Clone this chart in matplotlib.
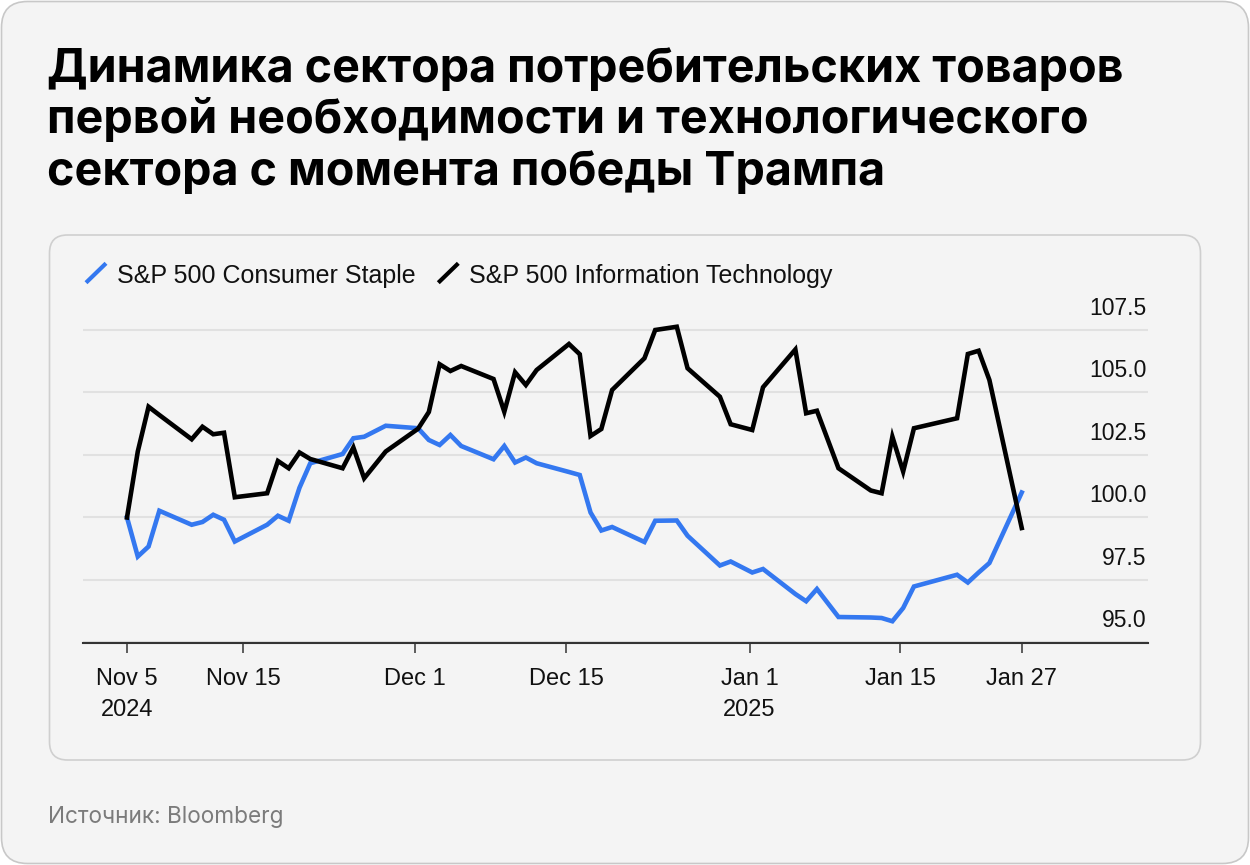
import numpy as np
import matplotlib
matplotlib.use("Agg")
import matplotlib.pyplot as plt
import matplotlib.dates as mdates
from matplotlib.patches import FancyBboxPatch
from matplotlib.lines import Line2D
from matplotlib.transforms import IdentityTransform

# ---------------- data ----------------
dates = np.array([
    "2024-11-05", "2024-11-06", "2024-11-07", "2024-11-08",
    "2024-11-11", "2024-11-12", "2024-11-13", "2024-11-14", "2024-11-15",
    "2024-11-18", "2024-11-19", "2024-11-20", "2024-11-21", "2024-11-22",
    "2024-11-25", "2024-11-26", "2024-11-27", "2024-11-29",
    "2024-12-02", "2024-12-03", "2024-12-04", "2024-12-05", "2024-12-06",
    "2024-12-09", "2024-12-10", "2024-12-11", "2024-12-12", "2024-12-13",
    "2024-12-16", "2024-12-17", "2024-12-18", "2024-12-19", "2024-12-20",
    "2024-12-23", "2024-12-24", "2024-12-26", "2024-12-27",
    "2024-12-30", "2024-12-31", "2025-01-02", "2025-01-03",
    "2025-01-06", "2025-01-07", "2025-01-08", "2025-01-10",
    "2025-01-13", "2025-01-14", "2025-01-15", "2025-01-16", "2025-01-17",
    "2025-01-21", "2025-01-22", "2025-01-23", "2025-01-24", "2025-01-27",
], dtype="datetime64[D]")

consumer_staples = [
    100.0, 98.44, 98.84, 100.27,
    99.71, 99.82, 100.11, 99.91, 99.04,
    99.71, 100.07, 99.87, 101.19, 102.17,
    102.54, 103.17, 103.23, 103.67,
    103.57, 103.10, 102.90, 103.30, 102.86,
    102.33, 102.86, 102.20, 102.40, 102.17,
    101.82, 101.70, 100.20, 99.48, 99.62,
    99.02, 99.87, 99.88, 99.27,
    98.08, 98.24, 97.80, 97.94,
    96.94, 96.65, 97.14, 96.02,
    96.00, 95.98, 95.85, 96.38, 97.24,
    97.71, 97.40, 97.80, 98.18, 101.00,
]

info_tech = [
    100.0, 102.64, 104.43, 104.10,
    103.13, 103.63, 103.33, 103.39, 100.81,
    100.97, 102.26, 101.97, 102.60, 102.34,
    101.97, 102.80, 101.57, 102.64,
    103.55, 104.22, 106.13, 105.86, 106.06,
    105.54, 104.23, 105.81, 105.30, 105.90,
    106.94, 106.53, 103.26, 103.54, 105.10,
    106.37, 107.50, 107.63, 105.97,
    104.83, 103.73, 103.50, 105.21,
    106.72, 104.17, 104.27, 101.97,
    101.08, 100.97, 103.23, 101.84, 103.57,
    103.97, 106.54, 106.67, 105.50, 99.58,
]

series_names = ["S&P 500 Consumer Staple", "S&P 500 Information Technology"]
series_colors = ["#3478F0", "#000000"]

y_ticks = [95.0, 97.5, 100.0, 102.5, 105.0, 107.5]
x_tick_dates = ["2024-11-05", "2024-11-15", "2024-12-01", "2024-12-15",
                "2025-01-01", "2025-01-15", "2025-01-27"]
x_tick_labels = ["Nov 5\n2024", "Nov 15", "Dec 1", "Dec 15",
                 "Jan 1\n2025", "Jan 15", "Jan 27"]

title_lines = [
    "Динамика сектора потребительских товаров",
    "первой необходимости и технологического",
    "сектора с момента победы Трампа",
]
source_text = "Источник: Bloomberg"

# ---------------- figure ----------------
W, H = 1250, 865
BG = "#f4f4f4"
fig = plt.figure(figsize=(W / 100, H / 100), dpi=100, facecolor="white")

def fy(y_top):
    return 1 - y_top / H

# outer card
outer = FancyBboxPatch((1.5, 1.5), W - 3, H - 3,
                       boxstyle="round,pad=0,rounding_size=26",
                       transform=IdentityTransform(), facecolor=BG,
                       edgecolor="#c8c8c8", lw=1.2, zorder=-10)
fig.add_artist(outer)
# inner card
inner = FancyBboxPatch((49.5, H - 760), 1151, 525,
                       boxstyle="round,pad=0,rounding_size=18",
                       transform=IdentityTransform(), facecolor=BG,
                       edgecolor="#cfcfcf", lw=1.2, zorder=-9)
fig.add_artist(inner)

# title
for i, line in enumerate(title_lines):
    fig.text(47 / W, fy(81.7 + i * 51.7), line, family="Inter",
             fontweight="bold", fontsize=33.6, color="black", va="baseline",
             ha="left")

# source
fig.text(48 / W, fy(823), source_text, family="Inter", fontsize=16.3,
         color="#7b7b7b", va="baseline", ha="left")

# ---------------- axes ----------------
ax_left, ax_right, ax_top, ax_bottom = 83.3, 1148, 305, 642.5
ax = fig.add_axes([ax_left / W, (H - ax_bottom) / H,
                   (ax_right - ax_left) / W, (ax_bottom - ax_top) / H])
ax.patch.set_alpha(0)

ax.plot(dates, consumer_staples, color=series_colors[0], lw=3.3,
        solid_joinstyle="miter", zorder=3)
ax.plot(dates, info_tech, color=series_colors[1], lw=3.3,
        solid_joinstyle="miter", zorder=4)

day0 = mdates.date2num(dates[0])
px_per_day = 10.78
ax.set_xlim(day0 - (127 - ax_left) / px_per_day,
            day0 + (ax_right - 127) / px_per_day)
ax.set_ylim(95.0, 108.5)

# y grid + labels (labels sit above gridlines at the right edge)
ax.set_yticks(y_ticks)
ax.tick_params(axis="y", length=0, labelleft=False, labelright=False)
ax.grid(axis="y", color="#e1e1e1", lw=1.5, zorder=0)
for v in y_ticks:
    ax.annotate(f"{v:.1f}", xy=(1, v), xycoords=("axes fraction", "data"),
                xytext=(-1.5, 15), textcoords="offset pixels",
                ha="right", va="baseline", fontsize=16.5,
                family="Liberation Sans", color="#111111")

# x ticks
tick_pos = []
for i, d in enumerate(x_tick_dates):
    p = mdates.date2num(np.datetime64(d))
    if 0 < i < len(x_tick_dates) - 1:
        p += 0.75
    tick_pos.append(p)
ax.set_xticks(tick_pos)
ax.set_xticklabels(x_tick_labels, fontsize=17, family="Liberation Sans",
                   color="#111111", linespacing=1.5)
ax.tick_params(axis="x", length=7.2, width=1.1, color="#333333", pad=11.3)

for s in ["top", "left", "right"]:
    ax.spines[s].set_visible(False)
ax.spines["bottom"].set_color("#333333")
ax.spines["bottom"].set_linewidth(1.5)
ax.spines["bottom"].set_zorder(5)

# ---------------- legend ----------------
legend_items = [(86, 116.7), (438.3, 469.3)]
for (mx, tx), name, col in zip(legend_items, series_names, series_colors):
    fig.add_artist(Line2D([mx, mx + 20], [H - 282.7, H - 263.3],
                          transform=IdentityTransform(), color=col, lw=3.0,
                          solid_capstyle="butt"))
    fig.text(tx / W, fy(282.7), name, family="Liberation Sans", fontsize=18,
             color="#111111", va="baseline", ha="left")

fig.savefig("out.png", dpi=100, facecolor="white")
